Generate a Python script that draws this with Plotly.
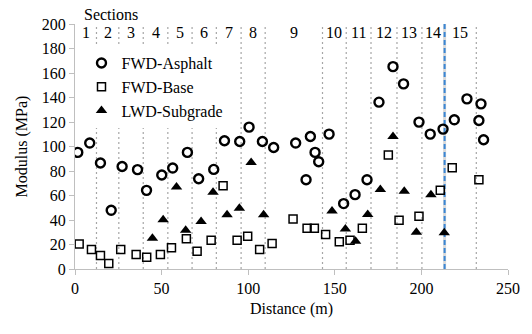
import plotly.graph_objects as go

# ---- data ----
asphalt_x = [1.6, 8.5, 14.7, 20.9, 27.2, 36.1, 41.3, 50.1, 56.4, 64.9, 71.4, 80.1, 86.3, 95.1,
             100.5, 108.2, 114.7, 127.4, 133.4, 135.9, 138.6, 140.7, 146.7, 155.1, 161.7, 168.6,
             175.5, 183.6, 189.7, 198.6, 205.1, 212.5, 219.0, 226.3, 234.4, 233.2, 235.9]
asphalt_y = [95.2, 102.8, 86.5, 47.9, 83.7, 81.1, 64.2, 76.7, 82.4, 95.2, 73.7, 81.3, 104.7, 104.1,
             115.8, 104.1, 99.2, 102.8, 72.9, 108.2, 95.2, 87.6, 110.1, 53.4, 60.7, 72.9,
             136.2, 165.2, 151.1, 119.9, 110.1, 114.2, 121.8, 138.9, 134.8, 121.2, 105.5]

base_x = [2.4, 9.5, 14.7, 19.5, 26.4, 35.3, 41.4, 49.3, 55.7, 64.3, 70.5, 78.6, 85.5, 93.6, 99.7,
          106.6, 113.8, 125.9, 134.0, 138.2, 144.7, 152.6, 158.8, 165.9, 180.9, 187.1, 198.6,
          210.9, 217.8, 233.2]
base_y = [20.5, 15.9, 11.0, 4.5, 15.9, 11.8, 9.6, 11.8, 17.3, 24.6, 14.5, 23.5, 68.0, 23.5, 26.7,
          15.9, 20.8, 40.9, 33.2, 33.2, 28.1, 22.2, 23.5, 33.2, 93.0, 39.8, 43.0,
          64.2, 82.7, 72.9]

subgrade_x = [44.7, 50.9, 58.6, 63.9, 72.8, 79.7, 87.8, 94.9, 101.7, 108.9, 148.4, 156.1, 162.0,
              169.0, 176.3, 183.6, 190.1, 197.1, 205.5, 213.2]
subgrade_y = [25.1, 40.3, 67.0, 31.6, 38.7, 62.6, 44.2, 49.5, 87.0, 44.2, 47.4, 32.7, 22.6,
              44.4, 64.8, 108.2, 63.4, 30.0, 60.7, 29.5]

section_bounds = [0, 12.4, 25.3, 39.4, 53.6, 67.6, 81.6, 95.9, 109.8, 142.9, 156.6, 170.9,
                  185.9, 200.3, 213.4, 231.7]
section_labels = [str(i) for i in range(1, 16)]
highlight_bound = 213.4

FONT = "Liberation Serif"
F16 = dict(family=FONT, size=16, color="black")

fig = go.Figure()

# section divider lines
shapes = []
for b in section_bounds[1:]:
    shapes.append(dict(type="line", xref="x", yref="y", x0=b, x1=b, y0=0, y1=200,
                       line=dict(color="#a6a6a6", width=1.2, dash="2px,3px"), layer="below"))
shapes.append(dict(type="line", xref="x", yref="y", x0=highlight_bound, x1=highlight_bound,
                   y0=0, y1=200, line=dict(color="#d9d9d9", width=3), layer="below"))
shapes.append(dict(type="line", xref="x", yref="y", x0=highlight_bound, x1=highlight_bound,
                   y0=0, y1=200, line=dict(color="#3a86d4", width=2, dash="5px,3px"), layer="below"))

annotations = []
for i, lab in enumerate(section_labels):
    mid = (section_bounds[i] + section_bounds[i + 1]) / 2
    annotations.append(dict(x=mid, y=192.7, xref="x", yref="y", text=lab, showarrow=False,
                            font=F16))
annotations.append(dict(x=4, y=1.037, xref="x", yref="paper", text="Sections", showarrow=False,
                        xanchor="left", yanchor="middle", font=F16))

fig.add_trace(go.Scatter(x=asphalt_x, y=asphalt_y, mode="markers", name="FWD-Asphalt",
                         marker=dict(symbol="circle-open", size=9, color="black",
                                     line=dict(width=2.4, color="black"))))
fig.add_trace(go.Scatter(x=base_x, y=base_y, mode="markers", name="FWD-Base",
                         marker=dict(symbol="square-open", size=8, color="black",
                                     line=dict(width=1.5, color="black"))))
fig.add_trace(go.Scatter(x=subgrade_x, y=subgrade_y, mode="markers", name="LWD-Subgrade",
                         marker=dict(symbol="triangle-up", size=10, color="black")))

fig.update_layout(
    width=532, height=334,
    margin=dict(l=74.5, r=24, t=24, b=64.5),
    paper_bgcolor="white", plot_bgcolor="white",
    font=F16,
    shapes=shapes, annotations=annotations,
    legend=dict(x=0.015, y=0.91, xanchor="left", yanchor="top",
                bgcolor="white", font=F16, tracegroupgap=0, itemwidth=30),
    xaxis=dict(range=[0, 250], tickvals=[0, 50, 100, 150, 200, 250], showgrid=False,
               zeroline=False, showline=True, linecolor="#bfbfbf", linewidth=1,
               ticks="outside", ticklen=5, tickcolor="#bfbfbf", tickfont=F16,
               title=dict(text="Distance (m)", font=F16, standoff=6)),
    yaxis=dict(range=[0, 200], tickvals=list(range(0, 201, 20)), showgrid=False,
               zeroline=False, showline=True, linecolor="#bfbfbf", linewidth=1,
               ticks="outside", ticklen=5, tickcolor="#bfbfbf", tickfont=F16,
               title=dict(text="Modulus (MPa)", font=F16, standoff=10)),
)

fig.write_html("out.html")
